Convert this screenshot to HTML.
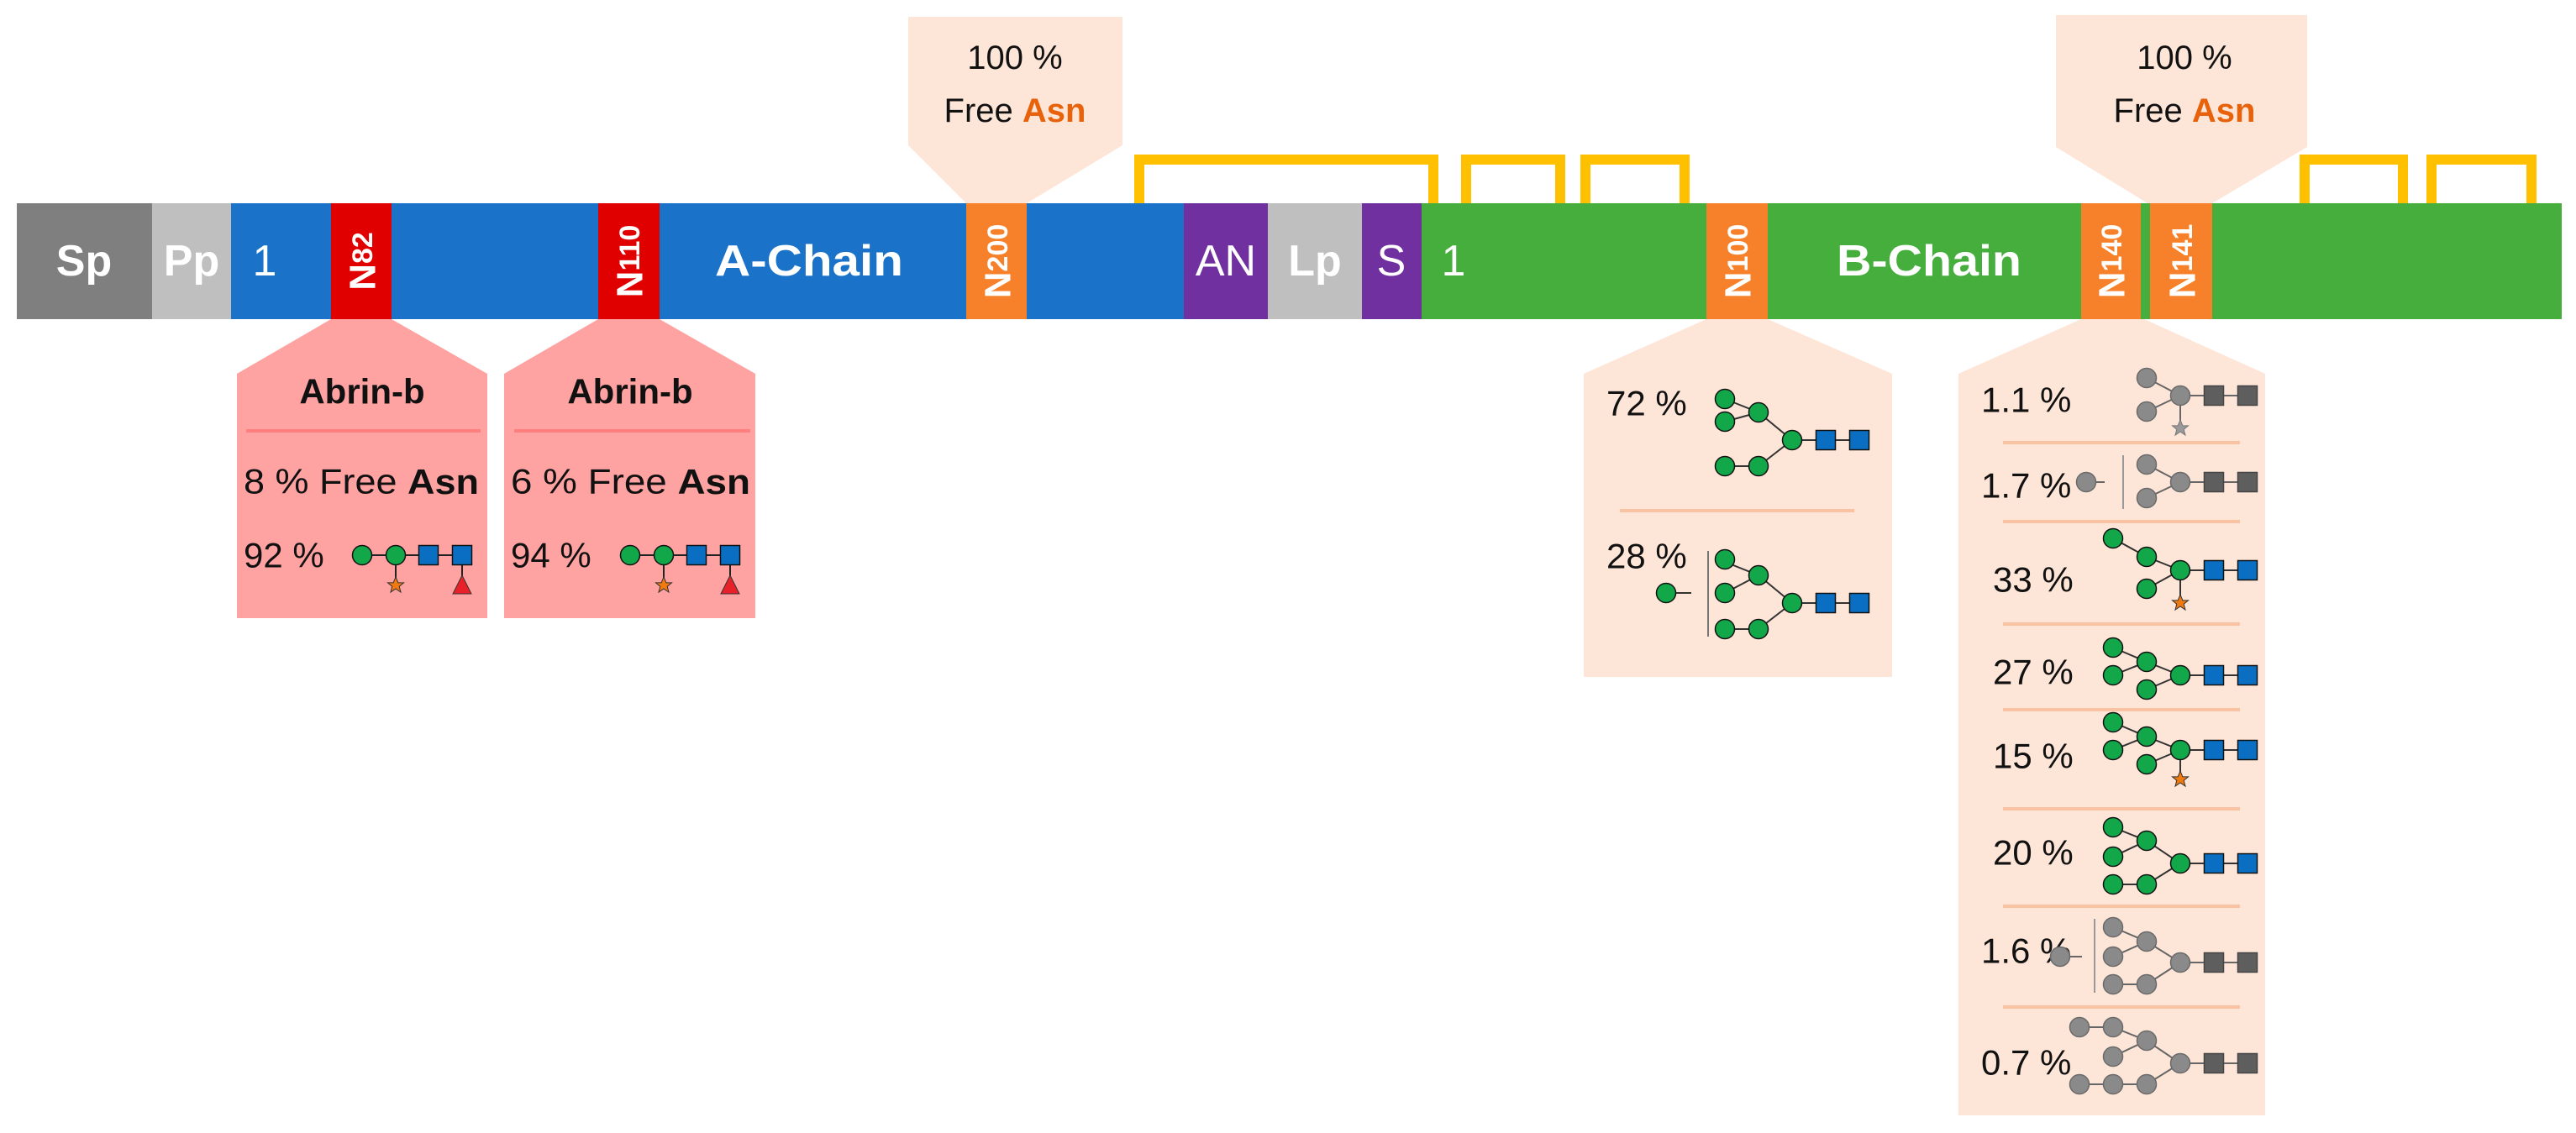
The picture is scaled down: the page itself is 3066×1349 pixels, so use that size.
<!DOCTYPE html>
<html><head><meta charset="utf-8"><style>
html,body{margin:0;padding:0;background:#fff;}
svg{display:block;font-family:"Liberation Sans",sans-serif;}
</style></head><body>
<svg width="3066" height="1349" viewBox="0 0 3066 1349" xmlns="http://www.w3.org/2000/svg">
<defs>
<circle id="g" r="11.5" fill="#12a84a" stroke="#111" stroke-width="1.5"/>
<circle id="x" r="11.5" fill="#8a8a8a" stroke="#6a6a6a" stroke-width="1.5"/>
<rect id="b" x="-11.5" y="-11.5" width="23" height="23" fill="#0a6fc2" stroke="#111" stroke-width="1.5"/>
<rect id="s" x="-11.5" y="-11.5" width="23" height="23" fill="#5e5e5e" stroke="#444" stroke-width="1.5"/>
<polygon id="st" points="0,-10 2.9,-3.1 9.5,-3.1 4.2,1.2 6,8.1 0,4 -6,8.1 -4.2,1.2 -9.5,-3.1 -2.9,-3.1" fill="#f07a10" stroke="#333" stroke-width="1"/>
<polygon id="sg" points="0,-10 2.9,-3.1 9.5,-3.1 4.2,1.2 6,8.1 0,4 -6,8.1 -4.2,1.2 -9.5,-3.1 -2.9,-3.1" fill="#999" stroke="#777" stroke-width="1"/>
</defs>

<g fill="none" stroke="#ffc000" stroke-width="12">
<path d="M1356,242 V190 H1706 V242"/>
<path d="M1745,242 V190 H1857 V242"/>
<path d="M1887,242 V190 H2005 V242"/>
<path d="M2743,242 V190 H2860 V242"/>
<path d="M2894,242 V190 H3013 V242"/>
</g>

<polygon points="1081,20 1336,20 1336,173 1222,242 1150,242 1081,173" fill="#fde5d7"/>
<polygon points="2447,18 2746,18 2746,175 2633,242 2556,242 2447,175" fill="#fde5d7"/>
<g font-size="40" fill="#111" text-anchor="middle" dominant-baseline="central">
<text x="1208" y="69">100 %</text>
<text x="1208" y="132">Free <tspan fill="#e8620c" font-weight="bold">Asn</tspan></text>
<text x="2600" y="69">100 %</text>
<text x="2600" y="132">Free <tspan fill="#e8620c" font-weight="bold">Asn</tspan></text>
</g>

<rect x="20" y="242" width="161" height="138" fill="#7f7f7f"/>
<rect x="181" y="242" width="94" height="138" fill="#bfbfbf"/>
<rect x="275" y="242" width="1134" height="138" fill="#1a73c8"/>
<rect x="1409" y="242" width="100" height="138" fill="#7030a0"/>
<rect x="1509" y="242" width="112" height="138" fill="#bfbfbf"/>
<rect x="1621" y="242" width="71" height="138" fill="#7030a0"/>
<rect x="1692" y="242" width="1357" height="138" fill="#45ae3c"/>
<rect x="394" y="242" width="72" height="138" fill="#e00000"/>
<rect x="712" y="242" width="73" height="138" fill="#e00000"/>
<rect x="1150" y="242" width="72" height="138" fill="#f7812a"/>
<rect x="2031" y="242" width="73" height="138" fill="#f7812a"/>
<rect x="2477" y="242" width="71" height="138" fill="#f7812a"/>
<rect x="2559" y="242" width="74" height="138" fill="#f7812a"/>

<g fill="#fff" font-size="52" dominant-baseline="central" text-anchor="middle">
<text x="100" y="311" font-weight="bold">Sp</text>
<text x="228" y="311" font-weight="bold">Pp</text>
<text x="315" y="311">1</text>
<text x="963" y="311" font-weight="bold" textLength="224" lengthAdjust="spacingAndGlyphs">A-Chain</text>
<text x="1459" y="311">AN</text>
<text x="1565" y="311" font-weight="bold">Lp</text>
<text x="1656" y="311">S</text>
<text x="1730" y="311">1</text>
<text x="2296" y="311" font-weight="bold" textLength="220" lengthAdjust="spacingAndGlyphs">B-Chain</text>
</g>
<g fill="#fff" font-size="44" font-weight="bold" text-anchor="middle" dominant-baseline="central">
<text transform="translate(432,311) rotate(-90)">N<tspan font-size="34">82</tspan></text>
<text transform="translate(750,311) rotate(-90)">N<tspan font-size="34">110</tspan></text>
<text transform="translate(1188,311) rotate(-90)">N<tspan font-size="34">200</tspan></text>
<text transform="translate(2069,311) rotate(-90)">N<tspan font-size="34">100</tspan></text>
<text transform="translate(2514,311) rotate(-90)">N<tspan font-size="34">140</tspan></text>
<text transform="translate(2598,311) rotate(-90)">N<tspan font-size="34">141</tspan></text>
</g>

<polygon points="394,380 466,380 580,445 580,736 282,736 282,445" fill="#ffa2a2"/>
<polygon points="712,380 785,380 899,445 899,736 600,736 600,445" fill="#ffa2a2"/>
<polygon points="2031,380 2104,380 2252,445 2252,806 1885,806 1885,445" fill="#fde5d7"/>
<polygon points="2477,380 2552,380 2696,445 2696,1328 2331,1328 2331,445" fill="#fde5d7"/>

<g stroke="#ff7f7f" stroke-width="4">
<line x1="293" y1="513" x2="572" y2="513"/>
<line x1="612" y1="513" x2="893" y2="513"/>
</g>
<g stroke="#f9c3a3" stroke-width="4">
<line x1="1928" y1="608" x2="2207" y2="608"/>
<line x1="2384" y1="527" x2="2666" y2="527"/>
<line x1="2384" y1="621" x2="2666" y2="621"/>
<line x1="2384" y1="743" x2="2666" y2="743"/>
<line x1="2384" y1="845" x2="2666" y2="845"/>
<line x1="2384" y1="963" x2="2666" y2="963"/>
<line x1="2384" y1="1079" x2="2666" y2="1079"/>
<line x1="2384" y1="1199" x2="2666" y2="1199"/>
</g>

<g font-size="42" fill="#111" dominant-baseline="central">
<text x="431" y="466" font-weight="bold" text-anchor="middle">Abrin-b</text>
<text x="750" y="466" font-weight="bold" text-anchor="middle">Abrin-b</text>
<text x="290" y="573" textLength="280" lengthAdjust="spacingAndGlyphs">8 % Free <tspan font-weight="bold">Asn</tspan></text>
<text x="608" y="573" textLength="285" lengthAdjust="spacingAndGlyphs">6 % Free <tspan font-weight="bold">Asn</tspan></text>
<text x="290" y="661">92 %</text>
<text x="608" y="661">94 %</text>
<text x="1912" y="480">72 %</text>
<text x="1912" y="662">28 %</text>
<text x="2358" y="476">1.1 %</text>
<text x="2358" y="578">1.7 %</text>
<text x="2372" y="690">33 %</text>
<text x="2372" y="800">27 %</text>
<text x="2372" y="900">15 %</text>
<text x="2372" y="1015">20 %</text>
<text x="2358" y="1132">1.6 %</text>
<text x="2358" y="1265">0.7 %</text>
</g>

<g transform="translate(431,661)">
<path d="M0,0 H119 M40,0 V34 M119,0 V34" stroke="#222" stroke-width="2" fill="none"/>
<use href="#g" x="0" y="0"/><use href="#g" x="40" y="0"/><use href="#b" x="79" y="0"/><use href="#b" x="119" y="0"/>
<use href="#st" x="40" y="36"/>
<polygon points="119,24 130,46 108,46" fill="#e8202a" stroke="#333" stroke-width="1"/>
</g>
<g transform="translate(750,661)">
<path d="M0,0 H119 M40,0 V34 M119,0 V34" stroke="#222" stroke-width="2" fill="none"/>
<use href="#g" x="0" y="0"/><use href="#g" x="40" y="0"/><use href="#b" x="79" y="0"/><use href="#b" x="119" y="0"/>
<use href="#st" x="40" y="36"/>
<polygon points="119,24 130,46 108,46" fill="#e8202a" stroke="#333" stroke-width="1"/>
</g>

<g transform="translate(2133,524)">
<path d="M80,0 H0 L-40,-33 L-80,-49 M-40,-33 L-80,-22 M0,0 L-40,31 H-80" stroke="#333" stroke-width="2" fill="none"/>
<use href="#b" x="40"/><use href="#b" x="80"/><use href="#g"/>
<use href="#g" x="-40" y="-33"/><use href="#g" x="-80" y="-49"/><use href="#g" x="-80" y="-22"/><use href="#g" x="-40" y="31"/><use href="#g" x="-80" y="31"/>
</g>
<g transform="translate(2133,718)">
<path d="M80,0 H0 L-40,-33 L-80,-49 M-40,-33 L-80,-12 M0,0 L-40,31 H-80 M-143,-12 H-120" stroke="#333" stroke-width="2" fill="none"/>
<path d="M-100,-62 V40" stroke="#777" stroke-width="2" fill="none"/>
<use href="#b" x="40"/><use href="#b" x="80"/><use href="#g"/>
<use href="#g" x="-40" y="-33"/><use href="#g" x="-80" y="-52"/><use href="#g" x="-80" y="-12"/><use href="#g" x="-40" y="31"/><use href="#g" x="-80" y="31"/>
<use href="#g" x="-150" y="-12"/>
</g>

<g transform="translate(2595,471)">
<path d="M80,0 H0 L-40,-21 M0,0 L-40,19 M0,0 V36" stroke="#666" stroke-width="2" fill="none"/>
<use href="#s" x="40"/><use href="#s" x="80"/><use href="#x"/>
<use href="#x" x="-40" y="-21"/><use href="#x" x="-40" y="19"/><use href="#sg" y="39"/>
</g>
<g transform="translate(2595,574)">
<path d="M80,0 H0 L-40,-21 M0,0 L-40,19 M-110,0 H-90" stroke="#666" stroke-width="2" fill="none"/>
<path d="M-68,-32 V32" stroke="#999" stroke-width="2" fill="none"/>
<use href="#s" x="40"/><use href="#s" x="80"/><use href="#x"/>
<use href="#x" x="-40" y="-21"/><use href="#x" x="-40" y="19"/><use href="#x" x="-112" y="0"/>
</g>
<g transform="translate(2595,679)">
<path d="M80,0 H0 L-40,-16 L-80,-38 M0,0 L-40,22 M0,0 V36" stroke="#333" stroke-width="2" fill="none"/>
<use href="#b" x="40"/><use href="#b" x="80"/><use href="#g"/>
<use href="#g" x="-40" y="-16"/><use href="#g" x="-80" y="-38"/><use href="#g" x="-40" y="22"/><use href="#st" y="39"/>
</g>
<g transform="translate(2595,804)">
<path d="M80,0 H0 L-40,-16 L-80,-33 M-40,-16 L-80,0 M0,0 L-40,17" stroke="#333" stroke-width="2" fill="none"/>
<use href="#b" x="40"/><use href="#b" x="80"/><use href="#g"/>
<use href="#g" x="-40" y="-16"/><use href="#g" x="-80" y="-33"/><use href="#g" x="-80" y="0"/><use href="#g" x="-40" y="17"/>
</g>
<g transform="translate(2595,893)">
<path d="M80,0 H0 L-40,-16 L-80,-33 M-40,-16 L-80,0 M0,0 L-40,17 M0,0 V32" stroke="#333" stroke-width="2" fill="none"/>
<use href="#b" x="40"/><use href="#b" x="80"/><use href="#g"/>
<use href="#g" x="-40" y="-16"/><use href="#g" x="-80" y="-33"/><use href="#g" x="-80" y="0"/><use href="#g" x="-40" y="17"/><use href="#st" y="35"/>
</g>
<g transform="translate(2595,1028)">
<path d="M80,0 H0 L-40,-27 L-80,-43 M-40,-27 L-80,-8 M0,0 L-40,25 H-80" stroke="#333" stroke-width="2" fill="none"/>
<use href="#b" x="40"/><use href="#b" x="80"/><use href="#g"/>
<use href="#g" x="-40" y="-27"/><use href="#g" x="-80" y="-43"/><use href="#g" x="-80" y="-8"/><use href="#g" x="-40" y="25"/><use href="#g" x="-80" y="25"/>
</g>
<g transform="translate(2595,1146)">
<path d="M80,0 H0 L-40,-25 L-80,-42 M-40,-25 L-80,-7 M0,0 L-40,26 H-80 M-143,-7 H-117" stroke="#666" stroke-width="2" fill="none"/>
<path d="M-102,-52 V36" stroke="#999" stroke-width="2" fill="none"/>
<use href="#s" x="40"/><use href="#s" x="80"/><use href="#x"/>
<use href="#x" x="-40" y="-25"/><use href="#x" x="-80" y="-42"/><use href="#x" x="-80" y="-7"/><use href="#x" x="-40" y="26"/><use href="#x" x="-80" y="26"/><use href="#x" x="-143" y="-7"/>
</g>
<g transform="translate(2595,1266)">
<path d="M80,0 H0 L-40,-27 L-80,-43 H-120 M-40,-27 L-80,-8 M0,0 L-40,25 H-120" stroke="#666" stroke-width="2" fill="none"/>
<use href="#s" x="40"/><use href="#s" x="80"/><use href="#x"/>
<use href="#x" x="-40" y="-27"/><use href="#x" x="-80" y="-43"/><use href="#x" x="-120" y="-43"/><use href="#x" x="-80" y="-8"/><use href="#x" x="-40" y="25"/><use href="#x" x="-80" y="25"/><use href="#x" x="-120" y="25"/>
</g>
</svg>
</body></html>
